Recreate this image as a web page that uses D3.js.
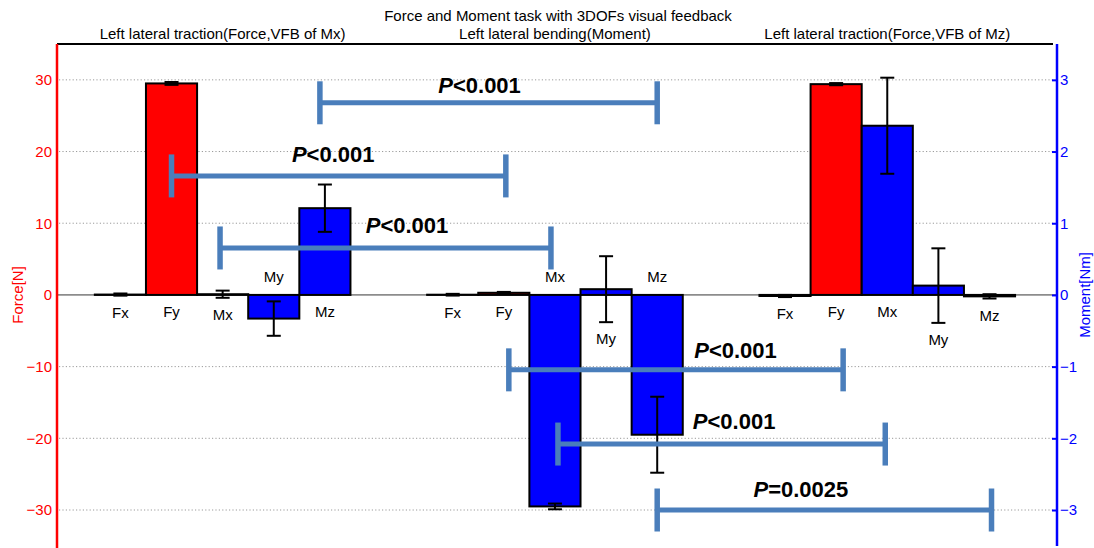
<!DOCTYPE html>
<html>
<head>
<meta charset="utf-8">
<script src="https://cdn.jsdelivr.net/npm/d3@7"></script>
<style>
  html, body { margin: 0; padding: 0; background: #fff; }
  svg { display: block; font-family: "Liberation Sans", Arial, sans-serif; }
</style>
</head>
<body>
<svg id="chart" width="1094" height="548"></svg>
<script>
// ---------- data ----------
const chartTitle = "Force and Moment task with 3DOFs visual feedback";
const groups = [
  "Left lateral traction(Force,VFB of Mx)",
  "Left lateral bending(Moment)",
  "Left lateral traction(Force,VFB of Mz)"
];
const components = ["Fx", "Fy", "Mx", "My", "Mz"];
// Forces in N, moments in Nm
const meansG1 = [0.05, 29.5, 0.01, -0.33, 1.21];
const errsG1  = [0.15, 0.2, 0.05, 0.24, 0.33];
const meansG2 = [0.03, 0.3, -2.95, 0.08, -1.95];
const errsG2  = [0.12, 0.12, 0.04, 0.46, 0.53];
const meansG3 = [-0.15, 29.4, 2.36, 0.13, -0.02];
const errsG3  = [0.15, 0.15, 0.67, 0.52, 0.03];
const forceTicks  = [-30, -20, -10, 0, 10, 20, 30];
const momentTicks = [-3, -2, -1, 0, 1, 2, 3];
const forceTitle = "Force[N]";
const momentTitle = "Moment[Nm]";
// significance comparisons: [group, component] pairs, level in Nm
const brackets = [
  { from: [0, "Mz"], to: [1, "Mz"], level: 2.68,  label: ["P", "<0.001"] },
  { from: [0, "Fy"], to: [1, "Fy"], level: 1.66,  label: ["P", "<0.001"] },
  { from: [0, "Mx"], to: [1, "Mx"], level: 0.655, label: ["P", "<0.001"] },
  { from: [1, "Fy"], to: [2, "Fy"], level: -1.045, label: ["P", "<0.001"] },
  { from: [1, "Mx"], to: [2, "Mx"], level: -2.08, label: ["P", "<0.001"] },
  { from: [1, "Mz"], to: [2, "Mz"], level: -3.0,  label: ["P", "=0.0025"] }
];

// ---------- layout (positions / styles) ----------
const W = 1094, H = 548;
const plot = { left: 57, right: 1057, top: 44, bottom: 548 };
const groupOffsets = [0, 6.5, 13];
const bracketLayout = [
  { n0: -5, n1: 0,  dx: -9,   dy: 10 },
  { n0: 0,  n1: 2,  dx: -5.5, dy: 14 },
  { n0: -2.6, n1: -4, dx: 21.5, dy: 15 },
  { n0: 5,  n1: 7,  dx: 59.5, dy: 12 },
  { n0: 3,  n1: -2, dx: 12.5, dy: 15 },
  { n0: 0,  n1: 2,  dx: -23.5, dy: 13 }
];
const RED = "#ff0000", BLUE = "#0000ff", BRK = "#4a7ebb";

const svg = d3.select("#chart");

const x = d3.scaleLinear().domain([-1.24, 18.32]).range([plot.left, plot.right]);
const yF = d3.scaleLinear().domain([-35.3, 35]).range([plot.bottom, plot.top]);
const yM = d3.scaleLinear().domain([-3.53, 3.5]).range([plot.bottom, plot.top]);

const allMeans = [meansG1, meansG2, meansG3];
const allErrs = [errsG1, errsG2, errsG3];
const bars = [];
groups.forEach((g, gi) => {
  components.forEach((c, ci) => {
    const isForce = c[0] === "F";
    bars.push({
      g: gi, comp: c, slot: groupOffsets[gi] + ci,
      v: allMeans[gi][ci], e: allErrs[gi][ci],
      force: isForce, y: isForce ? yF : yM
    });
  });
});
const slotW = x(1) - x(0);

// ---------- grid ----------
const gridG = svg.append("g");
gridG.selectAll("line.grid")
  .data(forceTicks.filter(t => t !== 0))
  .join("line")
  .attr("x1", plot.left + 2).attr("x2", plot.right - 4)
  .attr("y1", d => yF(d)).attr("y2", d => yF(d))
  .attr("stroke", "#9a9a9a").attr("stroke-width", 1)
  .attr("stroke-dasharray", "1.2,2.2");
gridG.append("line")
  .attr("x1", plot.left).attr("x2", plot.right)
  .attr("y1", yF(0)).attr("y2", yF(0))
  .attr("stroke", "#8c8c8c").attr("stroke-width", 1.6);

// ---------- bars ----------
svg.append("g").selectAll("rect")
  .data(bars)
  .join("rect")
  .attr("x", d => x(d.slot - 0.5))
  .attr("width", slotW)
  .attr("y", d => Math.min(d.y(d.v), d.y(0)))
  .attr("height", d => Math.abs(d.y(d.v) - d.y(0)))
  .attr("fill", d => d.force ? RED : BLUE)
  .attr("stroke", "#000").attr("stroke-width", 2);

// ---------- error bars ----------
const eb = svg.append("g").attr("stroke", "#000").attr("stroke-width", 2);
bars.forEach(d => {
  const cx = x(d.slot), y1 = d.y(d.v - d.e), y2 = d.y(d.v + d.e);
  eb.append("line").attr("x1", cx).attr("x2", cx).attr("y1", y1).attr("y2", y2);
  [y1, y2].forEach(yy => eb.append("line")
    .attr("x1", cx - 7).attr("x2", cx + 7).attr("y1", yy).attr("y2", yy));
});

// ---------- component labels ----------
svg.append("g").selectAll("text")
  .data(bars)
  .join("text")
  .attr("x", d => x(d.slot))
  .attr("y", d => (d.y(d.v) - d.y(0) > 5)
      ? d.y(0) - 13
      : Math.max(d.y(0), d.y(d.v - d.e)) + 22)
  .attr("text-anchor", "middle")
  .attr("font-size", 15)
  .attr("fill", "#000")
  .text(d => d.comp);

// ---------- frame & axes ----------
svg.append("line")
  .attr("x1", plot.left).attr("x2", plot.right - 4)
  .attr("y1", plot.top).attr("y2", plot.top)
  .attr("stroke", "#000").attr("stroke-width", 2);

const leftAxis = d3.axisLeft(yF).tickValues(forceTicks).tickFormat(d3.format("d")).tickSize(0).tickPadding(5);
const la = svg.append("g").attr("transform", `translate(${plot.left},0)`).call(leftAxis);
la.select(".domain").remove();
la.selectAll("text").attr("fill", RED).attr("font-size", 15)
  .attr("font-family", "Liberation Sans, Arial, sans-serif");
svg.append("line")
  .attr("x1", plot.left).attr("x2", plot.left)
  .attr("y1", plot.top).attr("y2", plot.bottom)
  .attr("stroke", RED).attr("stroke-width", 2.5);

const rightAxis = d3.axisRight(yM).tickValues(momentTicks).tickFormat(d3.format("d")).tickSize(0).tickPadding(3);
const ra = svg.append("g").attr("transform", `translate(${plot.right},0)`).call(rightAxis);
ra.select(".domain").remove();
ra.selectAll("text").attr("fill", BLUE).attr("font-size", 15)
  .attr("font-family", "Liberation Sans, Arial, sans-serif");
ra.selectAll(".tick").append("line")
  .attr("x1", -5).attr("x2", 0).attr("y1", 0).attr("y2", 0)
  .attr("stroke", BLUE).attr("stroke-width", 2);
svg.append("line")
  .attr("x1", plot.right).attr("x2", plot.right)
  .attr("y1", plot.top).attr("y2", plot.bottom - 2)
  .attr("stroke", BLUE).attr("stroke-width", 2.5);

// axis titles
svg.append("text")
  .attr("transform", `translate(23,${yF(0)}) rotate(-90)`)
  .attr("text-anchor", "middle").attr("font-size", 15).attr("fill", RED)
  .text(forceTitle);
svg.append("text")
  .attr("transform", `translate(1090,${yF(0)}) rotate(-90)`)
  .attr("text-anchor", "middle").attr("font-size", 15).attr("fill", BLUE)
  .text(momentTitle);

// titles
svg.append("text")
  .attr("x", (plot.left + plot.right) / 2 + 1).attr("y", 21)
  .attr("text-anchor", "middle").attr("font-size", 15).attr("fill", "#000")
  .text(chartTitle);
svg.append("g").selectAll("text")
  .data(groups)
  .join("text")
  .attr("x", (d, i) => x(groupOffsets[i] + 2))
  .attr("y", 39)
  .attr("text-anchor", "middle").attr("font-size", 15).attr("fill", "#000")
  .text(d => d);

// ---------- significance brackets ----------
const slotOf = ([g, c]) => groupOffsets[g] + components.indexOf(c);
const bg = svg.append("g");
brackets.forEach((b, i) => {
  const L = bracketLayout[i];
  const x0 = x(slotOf(b.from)) + L.n0;
  const x1 = x(slotOf(b.to)) + L.n1;
  const yy = yM(b.level);
  bg.append("line").attr("x1", x0).attr("x2", x1).attr("y1", yy).attr("y2", yy)
    .attr("stroke", BRK).attr("stroke-width", 5);
  [x0, x1].forEach(xx => bg.append("line")
    .attr("x1", xx).attr("x2", xx).attr("y1", yy - 21.5).attr("y2", yy + 21.5)
    .attr("stroke", BRK).attr("stroke-width", 5.5));
  const t = bg.append("text")
    .attr("x", (x0 + x1) / 2 + L.dx).attr("y", yy - L.dy)
    .attr("text-anchor", "middle").attr("font-size", 22).attr("font-weight", "bold")
    .attr("fill", "#000");
  t.append("tspan").attr("font-style", "italic").text(b.label[0]);
  t.append("tspan").text(b.label[1]);
});
</script>
</body>
</html>
